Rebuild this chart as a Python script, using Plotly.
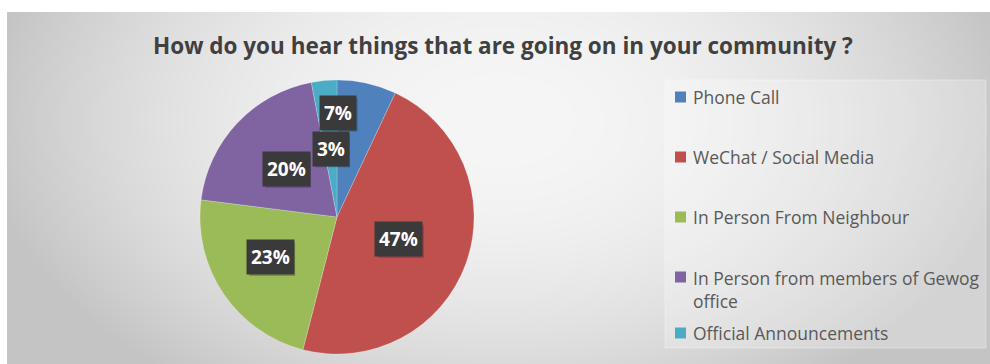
import math
import struct
import zlib
import base64

import numpy as np
import plotly.graph_objects as go

# ---- data ----
categories = [
    "Phone Call",
    "WeChat / Social Media",
    "In Person From Neighbour",
    "In Person from members of Gewog office",
    "Official Announcements",
]
legend_labels = [
    "Phone Call",
    "WeChat / Social Media",
    "In Person From Neighbour",
    "In Person from members of Gewog<br>office",
    "Official Announcements",
]
shares = [7, 47, 23, 20, 3]
colors = ["#4f81bd", "#c0504d", "#9bbb59", "#8064a2", "#4bacc6"]

title_text = "How do you hear things that are going on in your community ?"

# ---- layout constants (pixels) ----
W, H = 990, 364
PANEL_X0, PANEL_Y0 = 7, 12
PIE_CX, PIE_CY, PIE_R = 337, 217, 137
# radial position (fraction of radius) and angular nudge (deg) of each data label
label_radius = [0.76, 0.48, 0.57, 0.51, 0.50]
label_nudge = [-12, 0, 3, 0, 0]
LABEL_FONT = 19
LEG_SQ_X, LEG_SQ = 675, 11
LEG_TEXT_X = 691
legend_rows = [97, 157, 217, 277, 333]


def px_x(x):
    return x / W


def px_y(y):
    return 1 - y / H


def png_uri(rgb):
    h, w, _ = rgb.shape
    raw = b"".join(b"\x00" + rgb[r].tobytes() for r in range(h))

    def chunk(tag, data):
        return (struct.pack(">I", len(data)) + tag + data
                + struct.pack(">I", zlib.crc32(tag + data) & 0xFFFFFFFF))

    png = (b"\x89PNG\r\n\x1a\n"
           + chunk(b"IHDR", struct.pack(">IIBBBBB", w, h, 8, 2, 0, 0, 0))
           + chunk(b"IDAT", zlib.compress(raw, 9))
           + chunk(b"IEND", b""))
    return "data:image/png;base64," + base64.b64encode(png).decode()


# soft radial grey backdrop of the chart panel
pw, ph = W - PANEL_X0, H - PANEL_Y0
yy, xx = np.mgrid[0:ph, 0:pw].astype(float)
d = np.sqrt(((xx + PANEL_X0 - 500) / 520) ** 2 + ((yy + PANEL_Y0 - 120) / 330) ** 2)
d = np.clip(d, 0, 1)
v = (246 - 50 * d ** 2).astype(np.uint8)
bg = np.dstack([v, v, v])

fig = go.Figure()
fig.add_trace(go.Pie(
    labels=categories,
    values=shares,
    sort=False,
    direction="clockwise",
    rotation=0,
    marker=dict(colors=colors, line=dict(color="rgba(255,255,255,0.35)", width=0.6)),
    textinfo="none",
    hoverinfo="label+percent",
    showlegend=False,
    domain=dict(
        x=[px_x(PIE_CX - PIE_R), px_x(PIE_CX + PIE_R)],
        y=[px_y(PIE_CY + PIE_R), px_y(PIE_CY - PIE_R)],
    ),
))

annotations = []
shapes = []

# data labels in dark boxes, placed along each slice's mid-angle
total = sum(shares)
cum = 0
for i, val in enumerate(shares):
    mid = (cum + val / 2) / total
    cum += val
    theta = 2 * math.pi * mid + math.radians(label_nudge[i])
    rr = label_radius[i] * PIE_R
    lx = PIE_CX + rr * math.sin(theta)
    ly = PIE_CY - rr * math.cos(theta)
    txt = f"{val}%"
    # soft drop shadow behind the label box
    bw = 8 + LABEL_FONT * (0.57 * (len(txt) - 1) + 0.85)
    bh = 33
    shapes.append(dict(
        type="rect", xref="paper", yref="paper",
        x0=px_x(lx - bw / 2 + 2), x1=px_x(lx + bw / 2 + 2),
        y0=px_y(ly + bh / 2 + 2), y1=px_y(ly - bh / 2 + 2),
        fillcolor="rgba(0,0,0,0.22)", line=dict(width=0),
    ))
    annotations.append(dict(
        x=px_x(lx), y=px_y(ly), xref="paper", yref="paper",
        text=f"<b>{txt}</b>", showarrow=False,
        font=dict(family="Open Sans", size=LABEL_FONT, color="white"),
        bgcolor="#3a3a3a", borderpad=4,
        xanchor="center", yanchor="middle",
    ))

# legend panel
shapes.append(dict(
    type="rect", xref="paper", yref="paper",
    x0=px_x(665), x1=px_x(986), y0=px_y(348), y1=px_y(80),
    fillcolor="rgba(255,255,255,0.25)",
    line=dict(color="rgba(255,255,255,0.35)", width=1),
    layer="below",
))

for lab, col, yc in zip(legend_labels, colors, legend_rows):
    shapes.append(dict(
        type="rect", xref="paper", yref="paper",
        x0=px_x(LEG_SQ_X), x1=px_x(LEG_SQ_X + LEG_SQ),
        y0=px_y(yc + LEG_SQ / 2), y1=px_y(yc - LEG_SQ / 2),
        fillcolor=col, line=dict(width=0),
    ))
    multi = "<br>" in lab
    annotations.append(dict(
        x=px_x(LEG_TEXT_X), y=px_y(yc - 13) if multi else px_y(yc),
        xref="paper", yref="paper", text=lab, showarrow=False,
        font=dict(family="Open Sans", size=17.5, color="#595959"),
        xanchor="left", yanchor="top" if multi else "middle", align="left",
    ))

# title
annotations.append(dict(
    x=px_x(503), y=px_y(45), xref="paper", yref="paper",
    text=f"<b>{title_text}</b>", showarrow=False,
    font=dict(family="Open Sans", size=22.5, color="#404040"),
    xanchor="center", yanchor="middle",
))

fig.update_layout(
    width=W, height=H,
    margin=dict(l=0, r=0, t=0, b=0),
    paper_bgcolor="white",
    plot_bgcolor="white",
    annotations=annotations,
    shapes=shapes,
    images=[dict(
        source=png_uri(bg), xref="paper", yref="paper",
        x=px_x(PANEL_X0), y=px_y(PANEL_Y0),
        sizex=pw / W, sizey=ph / H,
        xanchor="left", yanchor="top", sizing="stretch", layer="below",
    )],
)

fig.write_html("out.html")
